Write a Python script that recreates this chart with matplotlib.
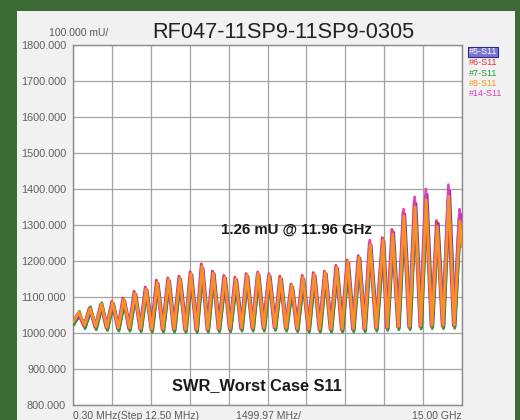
import matplotlib
matplotlib.use("Agg")
import matplotlib.pyplot as plt
from matplotlib.patches import Rectangle

plt.rcParams["font.family"] = ["Liberation Sans", "DejaVu Sans"]

# ---- data ----
title = "RF047-11SP9-11SP9-0305"
y_ticks = [800, 900, 1000, 1100, 1200, 1300, 1400, 1500, 1600, 1700, 1800]
x_divs = [0.0, 1.5, 3.0, 4.5, 6.0, 7.5, 9.0, 10.5, 12.0, 13.5, 15.0]

# frequency (GHz) of each ripple trough / peak
trough_freq = [0.02, 0.45, 0.88, 1.31, 1.75, 2.18, 2.61, 3.04, 3.47, 3.90,
               4.34, 4.77, 5.20, 5.63, 6.06, 6.50, 6.93, 7.36, 7.79, 8.22,
               8.65, 9.09, 9.52, 9.95, 10.38, 10.81, 11.25, 11.70, 12.12, 12.55,
               12.98, 13.41, 13.84, 14.27, 14.70]
peak_freq = [0.23, 0.66, 1.10, 1.53, 1.96, 2.39, 2.82, 3.25, 3.69, 4.12,
             4.55, 4.98, 5.41, 5.85, 6.28, 6.71, 7.14, 7.57, 8.01, 8.44,
             8.87, 9.30, 9.73, 10.17, 10.60, 11.03, 11.46, 11.96, 12.33, 12.76,
             13.19, 13.62, 14.05, 14.49, 14.92]
end_freq = 15.0

troughs = [1025, 1015, 1012, 1010, 1008, 1008, 1006, 1005, 1005, 1005,
           1004, 1004, 1005, 1006, 1006, 1008, 1008, 1008, 1010, 1008,
           1006, 1005, 1005, 1005, 1005, 1006, 1006, 1008, 1010, 1012,
           1012, 1014, 1015, 1015, 1016]

series_names = ["#5-S11", "#6-S11", "#7-S11", "#8-S11", "#14-S11"]
series_colors = ["#5a3cb4", "#e4322e", "#1e9a3c", "#f7961e", "#e03cb8"]
# small frequency skew between the traces (GHz) and trough depth offset (mU)
series_skew = [0.035, -0.035, 0.015, 0.0, -0.015]
series_trough_off = [2, 4, -3, 6, 8]

peaks_5 = [1048, 1062, 1075, 1082, 1090, 1108, 1120, 1138, 1145, 1150,
           1162, 1180, 1165, 1152, 1148, 1158, 1162, 1158, 1150, 1128,
           1150, 1160, 1165, 1180, 1195, 1208, 1245, 1255, 1280, 1330,
           1360, 1385, 1305, 1395, 1330]
peaks_6 = [1055, 1070, 1080, 1088, 1097, 1116, 1128, 1147, 1153, 1158,
           1170, 1192, 1172, 1160, 1155, 1165, 1165, 1160, 1158, 1136,
           1160, 1168, 1172, 1188, 1203, 1215, 1250, 1265, 1288, 1335,
           1365, 1380, 1312, 1370, 1320]
peaks_7 = [1060, 1073, 1084, 1080, 1085, 1100, 1112, 1130, 1138, 1142,
           1150, 1170, 1150, 1140, 1135, 1145, 1150, 1145, 1140, 1120,
           1140, 1148, 1155, 1170, 1185, 1195, 1235, 1240, 1265, 1310,
           1335, 1355, 1290, 1360, 1300]
peaks_8 = [1058, 1068, 1080, 1085, 1094, 1110, 1122, 1140, 1148, 1152,
           1165, 1185, 1166, 1155, 1150, 1160, 1165, 1160, 1152, 1132,
           1155, 1162, 1168, 1182, 1198, 1210, 1245, 1258, 1275, 1325,
           1350, 1370, 1295, 1380, 1310]
peaks_14 = [1050, 1065, 1078, 1085, 1092, 1112, 1125, 1140, 1150, 1155,
            1165, 1188, 1170, 1158, 1150, 1162, 1170, 1165, 1152, 1130,
            1158, 1165, 1168, 1185, 1200, 1212, 1258, 1262, 1285, 1344,
            1378, 1400, 1300, 1412, 1344]
end_value = 1240

series_peaks = [peaks_5, peaks_6, peaks_7, peaks_8, peaks_14]
draw_order = [0, 2, 1, 4, 3]

W, H = 520, 420


def fx(px):
    return px / W


def fy(py):
    return 1 - py / H


fig = plt.figure(figsize=(W / 100, H / 100), dpi=100)
fig.patch.set_facecolor("#3b6a34")
panel = Rectangle((fx(17), 0), fx(498), fy(11), transform=fig.transFigure,
                  facecolor="#f1f1f1", edgecolor="none", zorder=-5)
fig.add_artist(panel)

ax = fig.add_axes([fx(73), fy(405), fx(389), fy(45) - fy(405)])
ax.set_facecolor("white")

for i in draw_order:
    xs, ys = [], []
    for tf, tv, pf, pv in zip(trough_freq, troughs, peak_freq, series_peaks[i]):
        xs += [tf + series_skew[i], pf + series_skew[i]]
        ys += [tv + series_trough_off[i], pv]
    xs.append(end_freq)
    ys.append(end_value)
    ax.plot(xs, ys, color=series_colors[i], lw=2.0, solid_joinstyle="round",
            solid_capstyle="round", zorder=3, alpha=0.95)

ax.set_xlim(x_divs[0], x_divs[-1])
ax.set_ylim(y_ticks[0], y_ticks[-1])
ax.set_xticks(x_divs)
ax.set_yticks(y_ticks)
ax.set_xticklabels([])
ax.set_yticklabels([f"{v:.3f}" for v in y_ticks], fontsize=7.8, color="#606060")
ax.tick_params(length=0, pad=5)
ax.grid(True, color="#a3a3a3", lw=0.9)
for s in ax.spines.values():
    s.set_color("#8c8c8c")
    s.set_linewidth(1.0)

ax.text(8.6, 1287, "1.26 mU @ 11.96 GHz", ha="center", va="center",
        fontsize=10.8, fontweight="bold", color="#1a1a1a", zorder=5)
ax.text(7.1, 855, "SWR_Worst Case S11", ha="center", va="center",
        fontsize=11.8, fontweight="bold", color="#1a1a1a", zorder=5)

fig.text(fx(283), fy(32), title, ha="center", va="center", fontsize=15.7, color="#222222")
fig.text(fx(79), fy(33), "100.000 mU/", ha="center", va="center", fontsize=7.5, color="#5a5a5a")

fig.text(fx(73), fy(411), "0.30 MHz(Step 12.50 MHz)", ha="left", va="top", fontsize=7.5, color="#5a5a5a")
fig.text(fx(236), fy(411), "1499.97 MHz/", ha="left", va="top", fontsize=7.5, color="#5a5a5a")
fig.text(fx(462), fy(411), "15.00 GHz", ha="right", va="top", fontsize=7.5, color="#5a5a5a")

leg_y = [52, 62.5, 73, 83.5, 94]
for name, col, py in zip(series_names, series_colors, leg_y):
    if name == "#5-S11":
        fig.text(fx(469), fy(py), name, ha="left", va="center", fontsize=6.5, color="white",
                 bbox=dict(boxstyle="square,pad=0.08", facecolor="#7a74d2", edgecolor="#2a2a8a", lw=0.8))
    else:
        fig.text(fx(469), fy(py), name, ha="left", va="center", fontsize=6.5, color=col)

fig.savefig("out.png", dpi=100, facecolor=fig.get_facecolor())
